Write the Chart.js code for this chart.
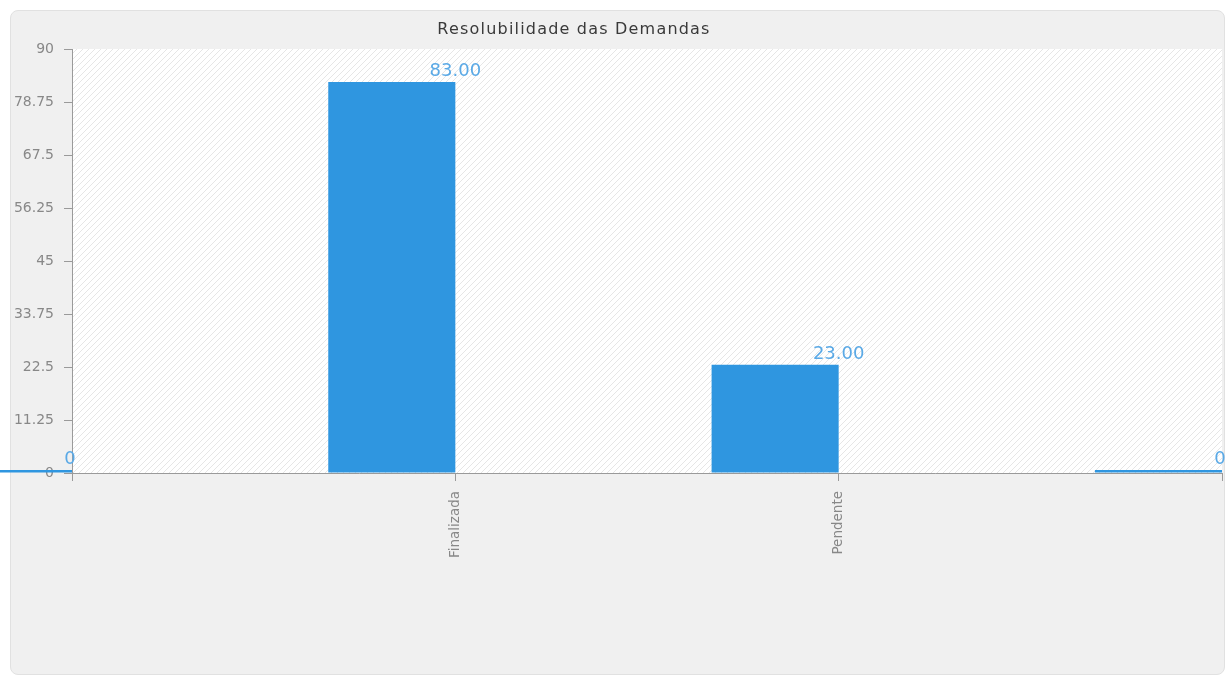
<!DOCTYPE html>
<html>
<head>
<meta charset="utf-8">
<script src="https://cdn.jsdelivr.net/npm/chart.js@4"></script>
<style>
  html, body { margin: 0; padding: 0; background: #ffffff; }
  #painel {
    position: absolute; left: 10px; top: 10px; width: 1213px; height: 663px;
    background: #f0f0f0; border: 1px solid #e1e1e1; border-radius: 8px;
  }
  #grafico { position: absolute; left: 0; top: 0; }
</style>
</head>
<body>
<div id="painel"></div>
<canvas id="grafico" width="1229" height="676"></canvas>
<script>
const titulo = 'Resolubilidade das Demandas';
const categorias = ['', 'Finalizada', 'Pendente', ''];
const quantidades = [0, 83, 23, 0];
const vazio = [null, null, null, null];
const ticksY = [0, 11.25, 22.5, 33.75, 45, 56.25, 67.5, 78.75, 90];

const corBarra = '#2f96e0';
const corRotulo = '#5aa9e6';
const corEixo = '#9a9a9a';
const corTexto = '#888888';

function criarHachura() {
    const c = document.createElement('canvas');
    c.width = 6;
    c.height = 6;
    const g = c.getContext('2d');
    g.fillStyle = '#ffffff';
    g.fillRect(0, 0, 6, 6);
    g.strokeStyle = '#e6e6e6';
    g.lineWidth = 1;
    g.beginPath();
    g.moveTo(-1, 7);
    g.lineTo(7, -1);
    g.stroke();
    return c;
}

const fundoPlot = {
    id: 'fundoPlot',
    beforeDraw(chart) {
        const { ctx, chartArea: a } = chart;
        ctx.save();
        ctx.fillStyle = ctx.createPattern(criarHachura(), 'repeat');
        ctx.fillRect(a.left, a.top, a.right - a.left, a.bottom - a.top);
        ctx.restore();
    }
};

const tituloPlugin = {
    id: 'tituloPlugin',
    afterDraw(chart) {
        const ctx = chart.ctx;
        ctx.save();
        ctx.font = '16px "DejaVu Sans"';
        ctx.letterSpacing = '1.2px';
        ctx.fillStyle = '#3a3a3a';
        ctx.textAlign = 'center';
        ctx.textBaseline = 'middle';
        ctx.fillText(titulo, 574, 30);
        ctx.restore();
    }
};

const rotulosValor = {
    id: 'rotulosValor',
    afterDatasetsDraw(chart) {
        const ctx = chart.ctx;
        const meta = chart.getDatasetMeta(0);
        const xScale = chart.scales.x;
        ctx.save();
        ctx.font = '18px "DejaVu Sans"';
        ctx.fillStyle = corRotulo;
        ctx.textAlign = 'center';
        ctx.textBaseline = 'alphabetic';
        meta.data.forEach((barra, i) => {
            const v = quantidades[i];
            const texto = v === 0 ? '0' : v.toFixed(2);
            const topo = Math.min(barra.y, barra.base);
            ctx.fillText(texto, xScale.getPixelForValue(i) - (v === 0 ? 2 : 0), topo - 6);
        });
        ctx.restore();
    }
};

new Chart(document.getElementById('grafico'), {
    type: 'bar',
    data: {
        labels: categorias,
        datasets: [{
            label: 'Quantidade',
            data: quantidades,
            backgroundColor: corBarra,
            borderWidth: 0,
            minBarLength: 3,
            clip: false,
            categoryPercentage: 0.663,
            barPercentage: 1.0
        }, {
            label: '',
            data: vazio,
            backgroundColor: 'transparent',
            borderWidth: 0,
            categoryPercentage: 0.663,
            barPercentage: 1.0
        }]
    },
    options: {
        responsive: false,
        animation: false,
        layout: { padding: { left: 0, top: 49, right: 7, bottom: 0 } },
        plugins: {
            legend: { display: false },
            title: { display: false },
            tooltip: { enabled: false }
        },
        scales: {
            x: {
                type: 'category',
                offset: false,
                grid: { offset: false, drawOnChartArea: false, drawTicks: true, tickLength: 8, color: corEixo },
                border: { color: corEixo },
                ticks: {
                    autoSkip: false,
                    minRotation: 90,
                    maxRotation: 90,
                    padding: 10,
                    color: corTexto,
                    font: { family: 'DejaVu Sans', size: 13.5 }
                },
                afterFit(scale) {
                    scale.height = 203;
                    scale.paddingLeft = 0;
                    scale.paddingRight = 0;
                }
            },
            y: {
                min: 0,
                max: 90,
                afterBuildTicks(scale) {
                    scale.ticks = ticksY.map(v => ({ value: v }));
                },
                grid: { drawOnChartArea: false, drawTicks: true, tickLength: 8, color: corEixo },
                border: { color: corEixo },
                ticks: {
                    padding: 10,
                    color: corTexto,
                    font: { family: 'DejaVu Sans', size: 14 },
                    callback: v => String(v)
                },
                afterFit(scale) { scale.width = 72; }
            }
        }
    },
    plugins: [fundoPlot, rotulosValor, tituloPlugin]
});
</script>
</body>
</html>
